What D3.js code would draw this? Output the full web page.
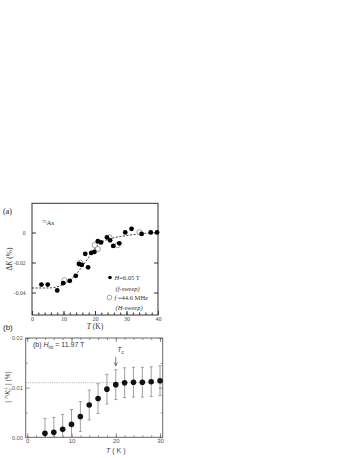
<!DOCTYPE html>
<html>
<head>
<meta charset="utf-8">
<script src="https://cdn.jsdelivr.net/npm/d3@7"></script>
<style>
  body { margin: 0; background: #fff; }
  .serif text { font-family: "Liberation Serif", "DejaVu Serif", serif; }
  .sans text { font-family: "Liberation Sans", Arial, sans-serif; }
</style>
</head>
<body>
<div id="chart"></div>
<script>
// panel (a): 75As Knight shift change
let fSweepT = [3, 5, 8, 9.9, 12, 13.9, 14.9, 15.8, 16.9, 17.8, 18.8, 19.8, 20.9, 21.9, 23.8, 24.8, 25.8, 27.7, 29.6, 31.6, 34.8, 37.7, 39.7];
let fSweepK = [-0.0347, -0.0347, -0.0386, -0.0338, -0.0322, -0.0289, -0.021, -0.0216, -0.0142, -0.0232, -0.0136, -0.0129, -0.0058, -0.0066, -0.0032, -0.0052, -0.0089, -0.0072, 0.0001, 0.0025, -0.0009, 0.0001, 0.0001];
let hSweepT = [10.3, 15.4, 19.9, 20.9, 24.6, 27.2, 34.1];
let hSweepK = [-0.0318, -0.0202, -0.0084, -0.0110, -0.0032, -0.0084, 0.0002];
let fitT = [0, 2, 4, 6, 8, 10, 12, 14, 16, 18, 20, 22, 24, 26, 28, 30, 32, 34, 36, 38, 40];
let fitK = [-0.037, -0.037, -0.037, -0.0369, -0.0362, -0.0345, -0.0318, -0.0278, -0.0225, -0.0165, -0.0105, -0.0066, -0.0046, -0.0035, -0.0027, -0.002, -0.0014, -0.0009, -0.0005, -0.0002, 0];
let aXTicks = [0, 10, 20, 30, 40];
let aYTicks = [0, -0.02, -0.04];
let aYTickLabels = ["0", "-0.02", "-0.04"];

// panel (b): |75Kc perp|
let bT = [4, 6, 8, 10, 12, 14, 16, 18, 20, 22, 24, 26, 28, 30];
let bK = [0.0008, 0.001, 0.0016, 0.0026, 0.0042, 0.0065, 0.0078, 0.0097, 0.0106, 0.011, 0.0111, 0.0111, 0.0112, 0.0114];
let bErr = [0.003, 0.003, 0.003, 0.003, 0.003, 0.003, 0.003, 0.003, 0.003, 0.003, 0.003, 0.003, 0.003, 0.003];
let bXTicks = [0, 10, 20, 30];
let bYTicks = [0, 0.01, 0.02];
let bYTickLabels = ["0.00", "0.01", "0.02"];
let bRef = 0.011;
let bTc = 20;

let width = 354, height = 458;
let svg = d3.select("#chart").append("svg")
    .attr("width", width).attr("height", height)
    .attr("viewBox", [0, 0, width, height]);

// ---------- panel (a) ----------
let xa = d3.scaleLinear().domain([0, 40]).range([32, 158]);
let ya = d3.scaleLinear().domain([-0.055, 0.0195]).range([315, 203.3]);
let ga = svg.append("g").attr("class", "serif");
let axCol = "#333";

ga.append("rect")
    .attr("x", xa.range()[0]).attr("y", ya.range()[1])
    .attr("width", xa.range()[1] - xa.range()[0])
    .attr("height", ya.range()[0] - ya.range()[1])
    .attr("fill", "none").attr("stroke", axCol).attr("stroke-width", 1);

ga.append("g")
    .attr("transform", `translate(0,${ya.range()[0]})`)
    .call(d3.axisBottom(xa).tickValues(d3.range(0, 41, 2)).tickSize(-2.5).tickFormat(""))
    .call(g => g.select(".domain").remove())
    .call(g => g.selectAll("line").attr("stroke", axCol));
ga.append("g")
    .attr("transform", `translate(0,${ya.range()[0]})`)
    .call(d3.axisBottom(xa).tickValues(aXTicks).tickSize(-4).tickPadding(1.5))
    .call(g => g.select(".domain").remove())
    .call(g => g.selectAll("line").attr("stroke", axCol))
    .call(g => g.selectAll("text").attr("font-size", 6).attr("fill", "#444")
        .attr("font-family", "Liberation Serif, serif"));
ga.append("g")
    .attr("transform", `translate(${xa.range()[0]},0)`)
    .call(d3.axisLeft(ya).tickValues(aYTicks).tickSize(-4).tickPadding(6.5)
        .tickFormat((d, i) => aYTickLabels[i]))
    .call(g => g.select(".domain").remove())
    .call(g => g.selectAll("line").attr("stroke", axCol))
    .call(g => g.selectAll("text").attr("font-size", 5.6).attr("fill", "#444")
        .attr("font-family", "Liberation Serif, serif"));
ga.append("g")
    .attr("transform", `translate(${xa.range()[1]},0)`)
    .call(d3.axisRight(ya).tickValues(aYTicks).tickSize(-4).tickFormat(""))
    .call(g => g.select(".domain").remove())
    .call(g => g.selectAll("line").attr("stroke", axCol));

let fitLine = d3.line().x(d => xa(d[0])).y(d => ya(d[1])).curve(d3.curveMonotoneX);
ga.append("path")
    .datum(fitT.map((t, i) => [t, fitK[i]]))
    .attr("d", fitLine)
    .attr("fill", "none").attr("stroke", "#222").attr("stroke-width", 0.9)
    .attr("stroke-dasharray", "2,1.6");

ga.append("g").selectAll("circle")
    .data(hSweepT.map((t, i) => [t, hSweepK[i]]))
    .join("circle")
    .attr("cx", d => xa(d[0])).attr("cy", d => ya(d[1])).attr("r", 2.6)
    .attr("fill", "#fff").attr("stroke", "#888").attr("stroke-width", 0.8);
ga.append("g").selectAll("circle")
    .data(fSweepT.map((t, i) => [t, fSweepK[i]]))
    .join("circle")
    .attr("cx", d => xa(d[0])).attr("cy", d => ya(d[1])).attr("r", 2.4)
    .attr("fill", "#000");

// legend
let legA = ga.append("g").attr("font-size", 6.5).attr("fill", "#333");
legA.append("circle").attr("cx", 110).attr("cy", 277.5).attr("r", 1.8).attr("fill", "#000");
let l1 = legA.append("text").attr("x", 114.5).attr("y", 280);
l1.append("tspan").attr("font-style", "italic").text("H");
l1.append("tspan").text("=6.05 T");
legA.append("text").attr("x", 115.5).attr("y", 290.5).attr("font-style", "italic").text("(f-sweep)");
legA.append("circle").attr("cx", 109.5).attr("cy", 297.5).attr("r", 2.3)
    .attr("fill", "#fff").attr("stroke", "#888").attr("stroke-width", 0.8);
let l2 = legA.append("text").attr("x", 114.5).attr("y", 299.5);
l2.append("tspan").attr("font-style", "italic").text("f");
l2.append("tspan").text(" =44.6 MHz");
legA.append("text").attr("x", 115.5).attr("y", 309.5).attr("font-style", "italic").text("(H-sweep)");

let asLbl = ga.append("text").attr("x", 42).attr("y", 225).attr("font-size", 7).attr("fill", "#333");
asLbl.append("tspan").attr("font-size", 4.5).attr("dy", -2.5).text("75");
asLbl.append("tspan").attr("dy", 2.5).text("As");

ga.append("text").attr("x", 3).attr("y", 214).attr("font-size", 8)
    .attr("font-family", "Liberation Sans, Arial, sans-serif").attr("fill", "#222").text("(a)");

let xaLbl = ga.append("text").attr("x", 95).attr("y", 329).attr("text-anchor", "middle")
    .attr("font-size", 7.5).attr("fill", "#333");
xaLbl.append("tspan").attr("font-style", "italic").text("T");
xaLbl.append("tspan").text(" (K)");

let yaLbl = ga.append("text").attr("transform", "translate(12,259) rotate(-90)")
    .attr("text-anchor", "middle").attr("font-size", 7.5).attr("fill", "#333");
yaLbl.append("tspan").text("Δ");
yaLbl.append("tspan").attr("font-style", "italic").text("K");
yaLbl.append("tspan").text(" (%)");

// ---------- panel (b) ----------
let xb = d3.scaleLinear().domain([-0.35, 30.6]).range([25.7, 162.7]);
let yb = d3.scaleLinear().domain([0, 0.02]).range([437.3, 338]);
let gb = svg.append("g").attr("class", "sans");
let bCol = "#666";

gb.append("line")
    .attr("x1", xb.range()[0]).attr("x2", xb.range()[1])
    .attr("y1", yb(bRef)).attr("y2", yb(bRef))
    .attr("stroke", "#999").attr("stroke-width", 0.8).attr("stroke-dasharray", "1,1.2");

gb.append("rect")
    .attr("x", xb.range()[0]).attr("y", yb.range()[1])
    .attr("width", xb.range()[1] - xb.range()[0])
    .attr("height", yb.range()[0] - yb.range()[1])
    .attr("fill", "none").attr("stroke", bCol).attr("stroke-width", 1);

let tickStyle = g => g.call(s => s.select(".domain").remove())
    .call(s => s.selectAll("line").attr("stroke", bCol).attr("stroke-width", 0.7));
gb.append("g").attr("transform", `translate(0,${yb.range()[0]})`)
    .call(d3.axisBottom(xb).tickValues(d3.range(0, 31, 2)).tickSize(-2).tickFormat("")).call(tickStyle);
gb.append("g").attr("transform", `translate(0,${yb.range()[1]})`)
    .call(d3.axisTop(xb).tickValues(d3.range(0, 31, 2)).tickSize(-2).tickFormat("")).call(tickStyle);
gb.append("g").attr("transform", `translate(0,${yb.range()[0]})`)
    .call(d3.axisBottom(xb).tickValues(bXTicks).tickSize(-4).tickPadding(1.5)).call(tickStyle)
    .call(g => g.selectAll("text").attr("font-size", 6).attr("fill", "#555")
        .attr("font-family", "Liberation Sans, Arial, sans-serif"));
gb.append("g").attr("transform", `translate(0,${yb.range()[1]})`)
    .call(d3.axisTop(xb).tickValues(bXTicks).tickSize(-4).tickFormat("")).call(tickStyle);
gb.append("g").attr("transform", `translate(${xb.range()[0]},0)`)
    .call(d3.axisLeft(yb).tickValues([0.005, 0.015]).tickSize(-2).tickFormat("")).call(tickStyle);
gb.append("g").attr("transform", `translate(${xb.range()[1]},0)`)
    .call(d3.axisRight(yb).tickValues([0.005, 0.015]).tickSize(-2).tickFormat("")).call(tickStyle);
gb.append("g").attr("transform", `translate(${xb.range()[0]},0)`)
    .call(d3.axisLeft(yb).tickValues(bYTicks).tickSize(-4).tickPadding(3)
        .tickFormat((d, i) => bYTickLabels[i])).call(tickStyle)
    .call(g => g.selectAll("text").attr("font-size", 5.5).attr("fill", "#555")
        .attr("font-family", "Liberation Sans, Arial, sans-serif"));
gb.append("g").attr("transform", `translate(${xb.range()[1]},0)`)
    .call(d3.axisRight(yb).tickValues(bYTicks).tickSize(-4).tickFormat("")).call(tickStyle);

// error bars
let bData = bT.map((t, i) => ({t: t, k: bK[i], e: bErr[i]}));
let eb = gb.append("g").attr("stroke", "#888").attr("stroke-width", 0.8);
eb.selectAll(".v").data(bData).join("line").attr("class", "v")
    .attr("x1", d => xb(d.t)).attr("x2", d => xb(d.t))
    .attr("y1", d => yb(Math.max(0, d.k - d.e))).attr("y2", d => yb(d.k + d.e));
eb.selectAll(".ct").data(bData).join("line").attr("class", "ct")
    .attr("x1", d => xb(d.t) - 1.5).attr("x2", d => xb(d.t) + 1.5)
    .attr("y1", d => yb(d.k + d.e)).attr("y2", d => yb(d.k + d.e));
eb.selectAll(".cb").data(bData.filter(d => d.k - d.e > 0)).join("line").attr("class", "cb")
    .attr("x1", d => xb(d.t) - 1.5).attr("x2", d => xb(d.t) + 1.5)
    .attr("y1", d => yb(d.k - d.e)).attr("y2", d => yb(d.k - d.e));

gb.append("g").selectAll("circle").data(bData).join("circle")
    .attr("cx", d => xb(d.t)).attr("cy", d => yb(d.k)).attr("r", 2.8)
    .attr("fill", "#111");

// Tc arrow
gb.append("line").attr("x1", xb(bTc)).attr("x2", xb(bTc))
    .attr("y1", 357).attr("y2", 365).attr("stroke", "#444").attr("stroke-width", 0.7);
gb.append("path")
    .attr("d", `M${xb(bTc) - 1.5},362.5 L${xb(bTc)},366 L${xb(bTc) + 1.5},362.5`)
    .attr("fill", "none").attr("stroke", "#444").attr("stroke-width", 0.7);
let tcLbl = gb.append("text").attr("x", xb(bTc) + 1.5).attr("y", 352).attr("font-size", 7).attr("fill", "#333");
tcLbl.append("tspan").attr("font-style", "italic").text("T");
tcLbl.append("tspan").attr("font-size", 4.5).attr("dy", 1.5).text("c");

let hLbl = gb.append("text").attr("x", 33).attr("y", 347).attr("font-size", 7).attr("fill", "#333");
hLbl.append("tspan").text("(b)  ");
hLbl.append("tspan").attr("font-style", "italic").text("H");
hLbl.append("tspan").attr("font-size", 4.5).attr("dy", 1.5).text("int");
hLbl.append("tspan").attr("dy", -1.5).text(" = 11.97 T");

gb.append("text").attr("x", 3).attr("y", 330).attr("font-size", 8)
    .attr("fill", "#222").text("(b)");

let xbLbl = gb.append("text").attr("x", xb(20)).attr("y", 453).attr("text-anchor", "middle")
    .attr("font-size", 7).attr("fill", "#444");
xbLbl.append("tspan").attr("font-style", "italic").text("T");
xbLbl.append("tspan").text(" ( K )");

let ybLbl = gb.append("text").attr("transform", "translate(10,387) rotate(-90)")
    .attr("text-anchor", "middle").attr("font-size", 6.5).attr("fill", "#444");
ybLbl.append("tspan").text("| ");
ybLbl.append("tspan").attr("font-size", 4).attr("dy", -2.5).text("75");
ybLbl.append("tspan").attr("font-style", "italic").attr("dy", 2.5).text("K");
ybLbl.append("tspan").attr("font-size", 4.5).attr("dy", 1.5).text("c");
ybLbl.append("tspan").attr("font-size", 4.5).attr("dx", -2.5).attr("dy", -4.5).text("⊥");
ybLbl.append("tspan").attr("dy", 3).text(" | (%)");
</script>
</body>
</html>
